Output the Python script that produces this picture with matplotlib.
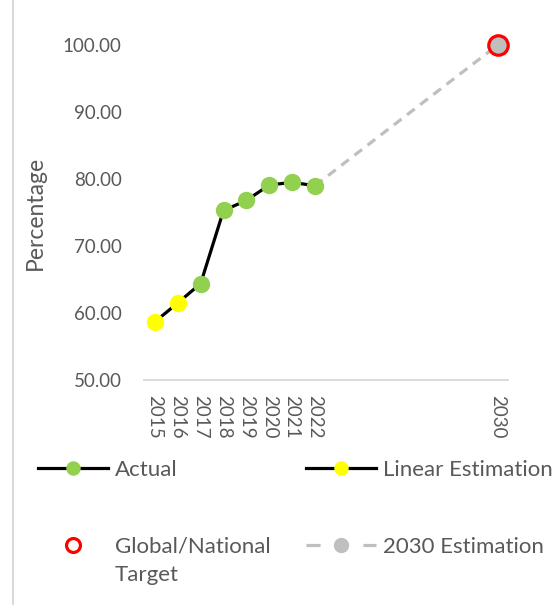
import numpy as np
import matplotlib.pyplot as plt
from matplotlib.lines import Line2D
from matplotlib.legend_handler import HandlerLine2D

# data
years_linear = [2015, 2016]
pct_linear = [58.7, 61.5]
years_actual = [2017, 2018, 2019, 2020, 2021, 2022]
pct_actual = [64.4, 75.3, 76.8, 79.1, 79.5, 79.0]
years_est = [2022, 2030]
pct_est = [79.0, 100.0]
target_year = [2030]
target_pct = [100.0]
year_ticks = [2015, 2016, 2017, 2018, 2019, 2020, 2021, 2022, 2030]

plt.rcParams['font.family'] = ['Lato', 'DejaVu Sans']
txt = '#595959'
green = '#92D050'
yellow = '#FFFF00'
grey = '#BFBFBF'


class HandlerUp(HandlerLine2D):
    # lift the marker so it sits on the first line of a two-line label
    def create_artists(self, legend, orig_handle, xdescent, ydescent,
                       width, height, fontsize, trans):
        arts = super().create_artists(legend, orig_handle, xdescent, ydescent,
                                      width, height, fontsize, trans)
        for a in arts:
            a.set_ydata(np.asarray(a.get_ydata()) + 11.5)
        return arts


fig = plt.figure(figsize=(5.53, 6.05), dpi=100)
ax = fig.add_axes([144/553, 1 - 380/605, (508 - 144)/553, 335/605])

all_years = years_linear + years_actual
all_pct = pct_linear + pct_actual
ax.plot(years_est, pct_est, color=grey, lw=2.3, ls=(0, (3, 2.2)), zorder=2)
ax.plot(years_est[-1:], pct_est[-1:], 'o', color=grey, ms=12, zorder=3, clip_on=False)
ax.plot(all_years, all_pct, color='black', lw=2.3, zorder=4)
ax.plot(years_linear, pct_linear, 'o', color=yellow, ms=11.5, zorder=5)
ax.plot(years_actual, pct_actual, 'o', color=green, ms=11.5, zorder=5)
ax.plot(target_year, target_pct, 'o', mfc='none', mec='#FF0000', mew=2.3, ms=14,
        zorder=6, clip_on=False)

ax.set_xlim(2014.52, 2030.45)
ax.set_ylim(50, 100)
ax.set_xticks(year_ticks)
ax.set_xticklabels([str(y) for y in year_ticks], rotation=-90)
ax.set_yticks(np.arange(50, 101, 10))
ax.set_yticklabels(['%.2f' % v for v in np.arange(50, 101, 10)])
ax.tick_params(length=0, labelsize=13.5, colors=txt)
ax.tick_params(axis='y', pad=16)
ax.tick_params(axis='x', pad=11)
for s in ['top', 'right', 'left']:
    ax.spines[s].set_visible(False)
ax.spines['bottom'].set_color('#D9D9D9')
ax.spines['bottom'].set_linewidth(1.3)
ax.set_ylabel('Percentage', fontsize=16.5, color=txt, labelpad=12)

h_actual = Line2D([], [], color='black', lw=2.3, marker='o', mfc=green, mec=green, ms=9.4)
h_linear = Line2D([], [], color='black', lw=2.3, marker='o', mfc=yellow, mec=yellow, ms=9.4)
h_target = Line2D([], [], ls='none', marker='o', mfc='none', mec='#FF0000', mew=2.3, ms=10)
h_est = Line2D([], [], color=grey, lw=2.3, ls=(0, (4.4, 13.4)), marker='o',
               mfc=grey, mec=grey, ms=10)
leg = fig.legend([h_actual, h_target, h_linear, h_est],
                 ['Actual', 'Global/National\nTarget', 'Linear Estimation', '2030 Estimation'],
                 ncol=2, loc='upper left', bbox_to_anchor=(38/553, 1 - 460/605),
                 frameon=False, fontsize=16, labelcolor=txt, handlelength=3.15,
                 handletextpad=0.32, columnspacing=1.6, labelspacing=2.55,
                 borderpad=0, borderaxespad=0,
                 handler_map={h_target: HandlerUp()})
for t in leg.get_texts():
    t.set_linespacing(1.5)

fig.add_artist(Line2D([12.5/553, 12.5/553], [0, 1], color='#D9D9D9', lw=1.5))

fig.savefig('out.png', dpi=100)
